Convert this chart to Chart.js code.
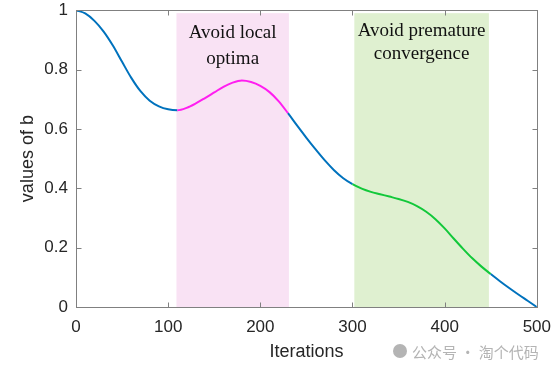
<!DOCTYPE html>
<html>
<head>
<meta charset="utf-8">
<script src="https://cdn.jsdelivr.net/npm/chart.js@4.4.1/dist/chart.umd.min.js"></script>
<style>
  html, body { margin: 0; padding: 0; background: #fff; }
  #wrap { width: 553px; height: 371px; position: relative; }
</style>
</head>
<body>
<div id="wrap"><canvas id="c"></canvas></div>
<script>
// data
const iterations = [0, 10, 20, 30, 40, 50, 60, 70, 80, 90,
  100, 110, 120, 130, 140, 150, 160, 170, 180, 190,
  200, 210, 220, 230, 240, 250, 260, 270, 280, 290,
  300, 310, 320, 330, 340, 350, 360, 370, 380, 390,
  400, 410, 420, 430, 440, 450, 460, 470, 480, 490, 500]
const bValues = [1.000, 0.989, 0.964, 0.928, 0.881, 0.826, 0.772, 0.727, 0.695, 0.676,
  0.666, 0.663, 0.671, 0.686, 0.704, 0.723, 0.742, 0.756, 0.763, 0.758,
  0.745, 0.724, 0.693, 0.653, 0.611, 0.570, 0.531, 0.494, 0.461, 0.434,
  0.414, 0.399, 0.388, 0.380, 0.372, 0.364, 0.354, 0.340, 0.321, 0.296,
  0.265, 0.230, 0.196, 0.164, 0.136, 0.111, 0.087, 0.064, 0.042, 0.021, 0.000]
const xTicks = [0, 100, 200, 300, 400, 500]
const yTicks = [0, 0.2, 0.4, 0.6, 0.8, 1]

// phases: curve colouring and shaded bands
const phaseFrom = [110, 300]
const phaseTo = [230, 450]
const bandFrom = [109, 302]
const bandTo = [231, 448]
const bandTop = 0.99
const phaseText = [['Avoid local', 'optima'], ['Avoid premature', 'convergence']]

const BLUE = '#0072bd'
const phaseLine = ['#ff1ef0', '#12c83a']
const phaseFill = ['#f9e2f4', '#dff0d0']
const AXIS = '#808080'
const INK = '#262626'

function lineColor(x) {
  for (let i = 0; i < phaseFrom.length; i++) {
    if (x >= phaseFrom[i] && x < phaseTo[i]) return phaseLine[i]
  }
  return BLUE
}

const frame = {
  id: 'frame',
  beforeDatasetsDraw(chart) {
    const { ctx, scales: { x, y } } = chart
    ctx.save()
    for (let i = 0; i < bandFrom.length; i++) {
      const l = x.getPixelForValue(bandFrom[i])
      const r = x.getPixelForValue(bandTo[i])
      const t = y.getPixelForValue(bandTop)
      const b = y.getPixelForValue(0)
      ctx.fillStyle = phaseFill[i]
      ctx.fillRect(l, t, r - l, b - t)
    }
    ctx.restore()
  },
  afterDatasetsDraw(chart) {
    const { ctx, chartArea: a, scales: { x, y } } = chart
    ctx.save()
    // band captions
    ctx.fillStyle = '#111'
    ctx.font = '19px "Liberation Serif", "Times New Roman", serif'
    ctx.textAlign = 'center'
    ctx.textBaseline = 'middle'
    const capY = [[33, 59], [31, 54]]
    for (let i = 0; i < phaseText.length; i++) {
      const cx = (x.getPixelForValue(bandFrom[i]) + x.getPixelForValue(bandTo[i])) / 2
      phaseText[i].forEach((s, k) => ctx.fillText(s, cx, capY[i][k]))
    }

    // box + inward ticks
    ctx.strokeStyle = AXIS
    ctx.lineWidth = 1
    const L = Math.round(a.left) + 0.5, R = Math.round(a.right) + 0.5
    const T = Math.round(a.top) + 0.5, B = Math.round(a.bottom) + 0.5
    ctx.strokeRect(L, T, R - L, B - T)
    ctx.beginPath()
    xTicks.forEach(v => {
      const px = Math.round(x.getPixelForValue(v)) + 0.5
      ctx.moveTo(px, B); ctx.lineTo(px, B - 5)
      ctx.moveTo(px, T); ctx.lineTo(px, T + 5)
    })
    yTicks.forEach(v => {
      const py = Math.round(y.getPixelForValue(v)) + 0.5
      ctx.moveTo(L, py); ctx.lineTo(L + 5, py)
      ctx.moveTo(R, py); ctx.lineTo(R - 5, py)
    })
    ctx.stroke()

    // axis titles
    ctx.fillStyle = INK
    ctx.font = '18px "Liberation Sans", Arial, sans-serif'
    ctx.fillText('Iterations', (a.left + a.right) / 2, 352)
    ctx.save()
    ctx.translate(28, (a.top + a.bottom) / 2)
    ctx.rotate(-Math.PI / 2)
    ctx.fillText('values of b', 0, 0)
    ctx.restore()

    // watermark
    ctx.fillStyle = '#b4b4b4'
    ctx.font = '15px "Noto Sans CJK SC", sans-serif'
    ctx.textAlign = 'left'
    ctx.fillText('公众号 · 淘个代码', 412, 352)
    ctx.beginPath()
    ctx.arc(400, 351, 7, 0, Math.PI * 2)
    ctx.fill()
    ctx.restore()
  }
}

new Chart(document.getElementById('c'), {
  type: 'line',
  data: {
    datasets: [{
      data: iterations.map((v, i) => ({ x: v, y: bValues[i] })),
      borderColor: BLUE,
      borderWidth: 2,
      pointRadius: 0,
      cubicInterpolationMode: 'monotone',
      fill: false,
      segment: { borderColor: ctx => lineColor(ctx.p0.parsed.x) }
    }]
  },
  options: {
    responsive: true,
    maintainAspectRatio: false,
    animation: false,
    layout: { padding: { top: 10, right: 7, left: 0, bottom: 0 } },
    plugins: { legend: { display: false }, tooltip: { enabled: false } },
    scales: {
      x: {
        type: 'linear', min: 0, max: 500,
        afterBuildTicks: s => { s.ticks = xTicks.map(v => ({ value: v })) },
        afterFit: s => { s.height = 64 },
        grid: { display: false },
        border: { display: false },
        ticks: { color: INK, padding: 2, maxRotation: 0,
          font: { family: '"Liberation Sans", Arial, sans-serif', size: 17 } }
      },
      y: {
        min: 0, max: 1,
        afterBuildTicks: s => { s.ticks = yTicks.map(v => ({ value: v })) },
        afterFit: s => { s.width = 76 },
        grid: { display: false },
        border: { display: false },
        ticks: { color: INK, padding: 0, callback: v => String(v),
          font: { family: '"Liberation Sans", Arial, sans-serif', size: 17 } }
      }
    }
  },
  plugins: [frame]
})
</script>
</body>
</html>
